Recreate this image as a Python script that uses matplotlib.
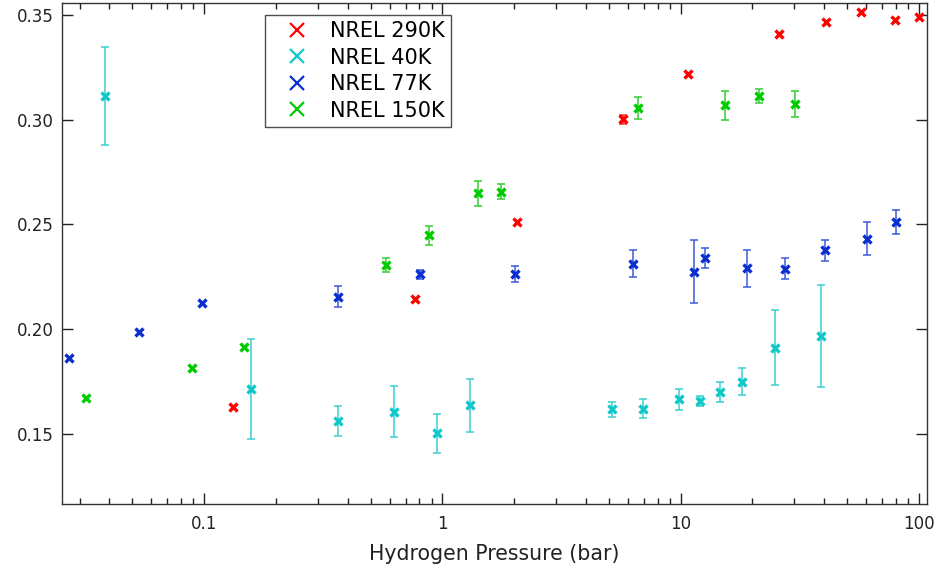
import numpy as np
import matplotlib
matplotlib.use("Agg")
import matplotlib.pyplot as plt
from matplotlib.lines import Line2D
from matplotlib.ticker import FixedLocator, FixedFormatter, LogLocator, NullFormatter

# NREL 290K
x_290 = [0.132, 0.767, 2.05, 5.71, 10.7, 25.8, 40.5, 56.9, 79.4, 99.5]
y_290 = [0.163, 0.2144, 0.2512, 0.3002, 0.3218, 0.3410, 0.3468, 0.3512, 0.3476, 0.3490]
e_290 = [0, 0, 0, 0.0022, 0, 0, 0, 0, 0, 0]

# NREL 40K
x_40 = [0.0385, 0.157, 0.364, 0.628, 0.951, 1.30, 5.17, 6.93, 9.81, 12.0, 14.6, 18.1, 24.9, 38.9]
y_40 = [0.3113, 0.1714, 0.1562, 0.1607, 0.1503, 0.1638, 0.1619, 0.1621, 0.1666, 0.1658,
        0.1702, 0.1750, 0.1912, 0.1968]
e_40 = [0.0235, 0.0238, 0.0072, 0.0122, 0.0092, 0.0126, 0.0036, 0.0046, 0.0050, 0.0025,
        0.0048, 0.0063, 0.0178, 0.0242]

# NREL 77K
x_77 = [0.0270, 0.0534, 0.0978, 0.364, 0.805, 2.01, 6.31, 11.4, 12.6, 19.0, 27.5, 40.4, 60.7, 80.2]
y_77 = [0.1864, 0.1988, 0.2127, 0.2155, 0.2262, 0.2262, 0.2313, 0.2275, 0.2340, 0.2290,
        0.2289, 0.2377, 0.2432, 0.2513]
e_77 = [0, 0, 0, 0.0050, 0.0020, 0.0038, 0.0065, 0.0152, 0.0048, 0.0088,
        0.0050, 0.0050, 0.0078, 0.0057]

# NREL 150K
x_150 = [0.0320, 0.0893, 0.1467, 0.5795, 0.880, 1.405, 1.76, 6.62, 15.3, 21.2, 30.1]
y_150 = [0.1670, 0.1814, 0.1915, 0.2307, 0.2449, 0.2648, 0.2656, 0.3055, 0.3068, 0.3113, 0.3076]
e_150 = [0, 0, 0, 0.0035, 0.0046, 0.0058, 0.0036, 0.0052, 0.0070, 0.0034, 0.0062]

series = [
    ("NREL 290K", x_290, y_290, e_290, "#ff0000", "#ff3333"),
    ("NREL 40K", x_40, y_40, e_40, "#10c8c8", "#3cd0d0"),
    ("NREL 77K", x_77, y_77, e_77, "#0a2ed0", "#3a5ada"),
    ("NREL 150K", x_150, y_150, e_150, "#00cc00", "#33cc33"),
]

x_ticks = [0.1, 1, 10, 100]
x_tick_labels = ["0.1", "1", "10", "100"]
y_ticks = [0.15, 0.20, 0.25, 0.30, 0.35]

plt.rcParams['font.family'] = ['DejaVu Sans']

fig = plt.figure(figsize=(9.36, 5.73), dpi=100)
ax = fig.add_axes([0.0662, 0.1204, 0.9242, 0.8744])

handles = []
for name, xs, ys, es, col, ecol in series:
    xs = np.array(xs)
    ys = np.array(ys)
    es = np.array(es)
    m = es > 0
    if m.any():
        ax.errorbar(xs[m], ys[m], yerr=es[m], fmt='none', ecolor=ecol,
                    elinewidth=1.1, capsize=3.2, capthick=1.1, zorder=2)
    ax.plot(xs, ys, 'x', color=col, markersize=5.5, markeredgewidth=2.4,
            linestyle='none', zorder=3)
    handles.append(Line2D([], [], marker='x', color=col, linestyle='none',
                          markersize=10, markeredgewidth=1.6, label=name))

ax.set_xscale('log')
ax.set_xlim(0.0253, 108)
ax.set_ylim(0.1166, 0.3557)

ax.xaxis.set_major_locator(FixedLocator(x_ticks))
ax.xaxis.set_major_formatter(FixedFormatter(x_tick_labels))
ax.xaxis.set_minor_locator(LogLocator(base=10, subs=np.arange(2, 10), numticks=20))
ax.xaxis.set_minor_formatter(NullFormatter())
ax.set_yticks(y_ticks)
ax.set_yticklabels(["%.2f" % v for v in y_ticks])

ax.tick_params(which='both', direction='in', top=True, right=True, colors='#222222')
ax.tick_params(which='major', length=8, width=1.0, labelsize=12)
ax.tick_params(which='minor', length=4, width=1.0)
ax.tick_params(axis='x', which='major', pad=8)
ax.tick_params(axis='y', which='major', pad=6)
for sp in ax.spines.values():
    sp.set_linewidth(1.0)
    sp.set_color('#333333')

ax.set_xlabel("Hydrogen Pressure (bar)", fontsize=14.8, labelpad=8, color='#222222')

leg = ax.legend(handles=handles, loc='upper left', bbox_to_anchor=(0.2347, 0.976),
                fontsize=15, frameon=True, fancybox=False, borderpad=0.3,
                labelspacing=0.31, handletextpad=0.3, handlelength=2.5,
                borderaxespad=0)
leg.get_frame().set_edgecolor('#222222')
leg.get_frame().set_linewidth(1.0)

fig.savefig("out.png", dpi=100)
